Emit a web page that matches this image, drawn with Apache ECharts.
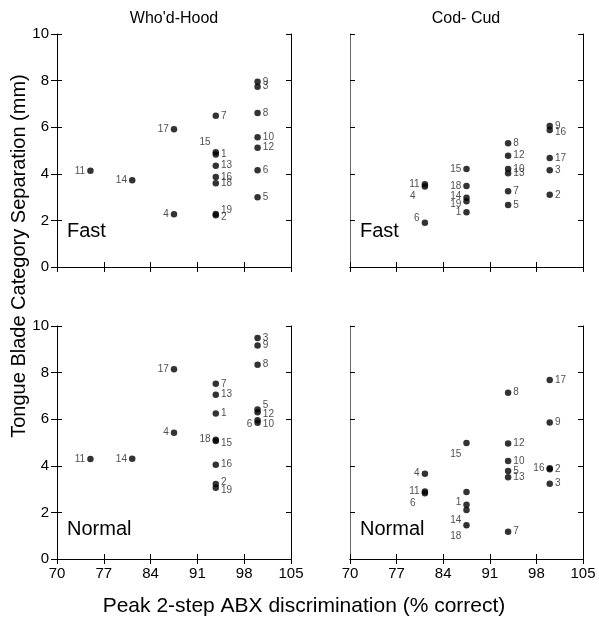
<!DOCTYPE html>
<html>
<head>
<meta charset="utf-8">
<script src="https://cdn.jsdelivr.net/npm/echarts@6/dist/echarts.min.js"></script>
<style>
  html, body { margin: 0; padding: 0; background: #fff; }
  #chart { width: 599px; height: 621px; }
</style>
</head>
<body>
<div id="chart"></div>
<script>
// tick values
const xTicks = [70, 77, 84, 91, 98, 105]
const yTicks = [0, 2, 4, 6, 8, 10]

// Who'd-Hood, Fast
const whFastId = ['11', '14', '17', '4', '7', '15', '1', '13', '16', '18', '19', '2', '9', '3', '8', '10', '12', '6', '5']
const whFastX = [75, 81.25, 87.5, 87.5, 93.75, 93.75, 93.75, 93.75, 93.75, 93.75, 93.75, 93.75, 100, 100, 100, 100, 100, 100, 100]
const whFastY = [4.13, 3.72, 5.91, 2.26, 6.49, 4.92, 4.83, 4.35, 3.86, 3.59, 2.28, 2.22, 7.95, 7.74, 6.61, 5.57, 5.12, 4.15, 2.99]

// Cod-Cud, Fast
const ccFastId = ['11', '4', '6', '15', '18', '14', '19', '1', '8', '12', '10', '13', '7', '5', '9', '16', '17', '3', '2']
const ccFastX = [81.25, 81.25, 81.25, 87.5, 87.5, 87.5, 87.5, 87.5, 93.75, 93.75, 93.75, 93.75, 93.75, 93.75, 100, 100, 100, 100, 100]
const ccFastY = [3.55, 3.45, 1.90, 4.21, 3.48, 2.97, 2.82, 2.35, 5.31, 4.78, 4.21, 4.02, 3.25, 2.66, 6.05, 5.88, 4.68, 4.15, 3.10]

// Who'd-Hood, Normal
const whNormId = ['11', '14', '17', '4', '7', '13', '1', '18', '15', '16', '2', '19', '3', '9', '8', '5', '12', '6', '10']
const whNormX = [75, 81.25, 87.5, 87.5, 93.75, 93.75, 93.75, 93.75, 93.75, 93.75, 93.75, 93.75, 100, 100, 100, 100, 100, 100, 100]
const whNormY = [4.29, 4.30, 8.14, 5.42, 7.52, 7.05, 6.24, 5.12, 5.06, 4.05, 3.22, 3.06, 9.48, 9.16, 8.34, 6.42, 6.30, 5.95, 5.85]

// Cod-Cud, Normal
const ccNormId = ['4', '11', '6', '15', '19', '1', '14', '18', '8', '12', '10', '5', '13', '7', '17', '9', '16', '2', '3']
const ccNormX = [81.25, 81.25, 81.25, 87.5, 87.5, 87.5, 87.5, 87.5, 93.75, 93.75, 93.75, 93.75, 93.75, 93.75, 100, 100, 100, 100, 100]
const ccNormY = [3.66, 2.90, 2.82, 4.98, 2.88, 2.33, 2.10, 1.45, 7.14, 4.96, 4.21, 3.78, 3.51, 1.17, 7.68, 5.86, 3.90, 3.85, 3.23]

// label placement per panel: [position, dx, dy]; default is right
const whFastLab = { '11': ['left', 0, 0], '14': ['left', 0, 0], '17': ['left', 0, 0], '4': ['left', 0, 0],
  '15': ['left', 0, -10], '19': ['right', 0, -4], '2': ['right', 0, 2] }
const ccFastLab = { '11': ['left', 0, 0], '4': ['left', -4, 10], '6': ['left', 0, -4], '15': ['left', 0, 0],
  '18': ['left', 0, 0], '14': ['left', 0, -2], '19': ['left', 0, 3], '1': ['left', 0, 0], '16': ['right', 0, 2] }
const whNormLab = { '11': ['left', 0, 0], '14': ['left', 0, 0], '17': ['left', 0, 0], '4': ['left', 0, 0],
  '18': ['left', 0, 0], '15': ['right', 0, 2], '19': ['right', 0, 3], '2': ['right', 0, -2],
  '5': ['right', 0, -4], '12': ['right', 0, 2], '6': ['left', 0, 4], '10': ['right', 0, 2] }
const ccNormLab = { '4': ['left', 0, 0], '11': ['left', 0, 0], '6': ['left', -4, 10], '15': ['left', 0, 11],
  '19': ['none', 0, 0], '1': ['left', 0, -2], '14': ['left', 0, 10], '18': ['left', 0, 11], '16': ['left', 0, 0] }

const chart = echarts.init(document.getElementById('chart'))

const panels = [
  { id: whFastId, x: whFastX, y: whFastY, lab: whFastLab, left: 57, top: 34, width: 234, xLabels: false, yLabels: true },
  { id: ccFastId, x: ccFastX, y: ccFastY, lab: ccFastLab, left: 350, top: 34, width: 233, xLabels: false, yLabels: false },
  { id: whNormId, x: whNormX, y: whNormY, lab: whNormLab, left: 57, top: 326, width: 234, xLabels: true, yLabels: true },
  { id: ccNormId, x: ccNormX, y: ccNormY, lab: ccNormLab, left: 350, top: 326, width: 233, xLabels: true, yLabels: false }
]

const grid = []
const xAxis = []
const yAxis = []
const series = []

const yBase = {
  type: 'value',
  min: yTicks[0], max: yTicks[yTicks.length - 1], interval: 2,
  splitLine: { show: false }
}

panels.forEach((p, i) => {
  grid.push({ left: p.left, top: p.top, width: p.width, height: 233 })

  const leftColor = p.yLabels ? '#000' : '#666'
  const tick = { inside: true, length: 5, lineStyle: { color: '#000' } }

  // bottom and top x axes
  xAxis.push({
    gridIndex: i, type: 'value', position: 'bottom',
    min: xTicks[0], max: xTicks[xTicks.length - 1], interval: 7,
    axisLine: { show: true, lineStyle: { color: '#000', width: 1 } },
    axisTick: tick,
    axisLabel: { show: p.xLabels, color: '#000', fontSize: 15, margin: 7, fontFamily: 'Liberation Sans' },
    splitLine: { show: false }
  })
  xAxis.push({
    gridIndex: i, type: 'value', position: 'top',
    min: xTicks[0], max: xTicks[xTicks.length - 1], interval: 7,
    axisLine: { show: true, lineStyle: { color: '#000', width: 1 } },
    axisTick: tick,
    axisLabel: { show: false },
    splitLine: { show: false }
  })
  // left and right y axes
  yAxis.push(Object.assign({}, yBase, {
    gridIndex: i, position: 'left',
    axisLine: { show: true, lineStyle: { color: leftColor, width: 1 } },
    axisTick: tick,
    axisLabel: { show: p.yLabels, color: '#000', fontSize: 15, margin: 8, fontFamily: 'Liberation Sans' }
  }))
  yAxis.push(Object.assign({}, yBase, {
    gridIndex: i, position: 'right',
    axisLine: { show: true, lineStyle: { color: '#000', width: 1 } },
    axisTick: tick,
    axisLabel: { show: false }
  }))

  series.push({
    type: 'scatter',
    xAxisIndex: i * 2,
    yAxisIndex: i * 2,
    symbolSize: 6.5,
    itemStyle: { color: '#000' },
    data: p.id.map((name, k) => {
      const l = p.lab[name] || ['right', 0, 0]
      return {
        name: name,
        value: [p.x[k], p.y[k]],
        label: {
          show: l[0] !== 'none',
          position: l[0] === 'none' ? 'right' : l[0],
          offset: [l[1], l[2]]
        }
      }
    }),
    label: {
      show: true,
      formatter: '{b}',
      fontSize: 10,
      color: '#222',
      distance: 2,
      fontFamily: 'Liberation Sans'
    },
    emphasis: { disabled: true },
    silent: true
  })
})

// left panels: ticks also stick out past the left axis
;[0, 2].forEach(g => {
  yAxis.push(Object.assign({}, yBase, {
    gridIndex: g, position: 'left',
    axisLine: { show: false },
    axisTick: { inside: false, length: 6, lineStyle: { color: '#000' } },
    axisLabel: { show: false }
  }))
})

const txt = (x, y, text, size, align) => ({
  type: 'text', x: x, y: y,
  style: { text: text, fontSize: size, fill: '#000', fontFamily: 'Liberation Sans', align: align || 'left', verticalAlign: 'middle' }
})

const option = {
  animation: false,
  grid: grid,
  xAxis: xAxis,
  yAxis: yAxis,
  series: series,
  graphic: [
    txt(174, 19, "Who'd-Hood", 16, 'center'),
    txt(466, 19, 'Cod- Cud', 16, 'center'),
    txt(67, 231, 'Fast', 20),
    txt(360, 231, 'Fast', 20),
    txt(67, 529, 'Normal', 20),
    txt(360, 529, 'Normal', 20),
    txt(304, 606, 'Peak 2-step ABX discrimination (% correct)', 21, 'center'),
    {
      type: 'text', x: 19, y: 256, rotation: Math.PI / 2,
      style: { text: 'Tongue Blade Category Separation (mm)', fontSize: 20, fill: '#000', fontFamily: 'Liberation Sans', align: 'center', verticalAlign: 'middle' }
    }
  ]
}

chart.setOption(option)
</script>
</body>
</html>
